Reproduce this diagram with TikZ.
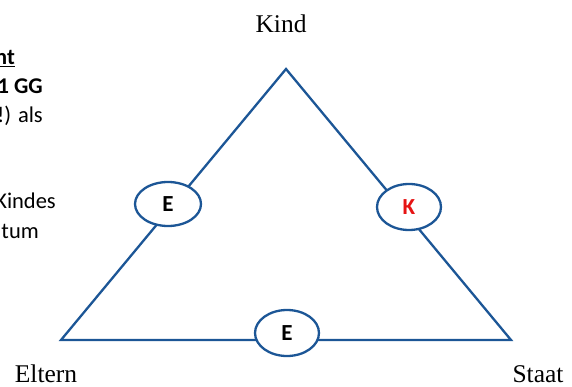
\documentclass[tikz,border=0pt]{standalone}
\usepackage{fontspec}
\setmainfont{Liberation Serif}
\newfontfamily\calib{Carlito}
\definecolor{triblue}{RGB}{28,86,150}
\definecolor{kred}{RGB}{230,20,20}
\tikzset{
  edgeline/.style={draw=triblue, line width=2.3pt, line join=miter},
  role/.style={ellipse, draw=triblue, line width=2.3pt, fill=white, inner sep=0pt,
    font=\calib\fontsize{23}{27}\selectfont\bfseries},
  corner/.style={font=\fontsize{25.5}{30}\selectfont},
  sidetext/.style={anchor=base east, inner sep=0pt, font=\calib\fontsize{22.5}{29}\selectfont}
}
\usetikzlibrary{shapes.geometric}
\begin{document}
\begin{tikzpicture}[x=1pt,y=-1pt]
\useasboundingbox (0,0) rectangle (572,387);
\clip (0,0) rectangle (572,387);
% vertices
\coordinate (top) at (286,69);
\coordinate (bl) at (61,340);
\coordinate (br) at (511,340);
\draw[edgeline] (top) -- (bl) -- (br) -- cycle;
% role ellipses
\node[role, minimum width=66pt, minimum height=44pt] (eleft) at (168,204) {E};
\node[role, minimum width=64pt, minimum height=46pt, text=kred] (kright) at (409,207) {K};
\node[role, minimum width=64pt, minimum height=46pt] (ebottom) at (287,333) {E};
% corner labels
\node[corner] (kind) at (281,24) {Kind};
\node[corner] (eltern) at (46,374) {Eltern};
\node[corner] (staat) at (538,374) {Staat};
% clipped side text
\node[sidetext] (t1) at (15,65) {\bfseries\underline{nt}};
\node[sidetext] (t2) at (43,94) {\bfseries 1 GG};
\node[sidetext] (t3) at (43,123) {!) als};
\node[sidetext] (t4) at (56,209) {Kindes};
\node[sidetext] (t5) at (39,238) {tum};
\end{tikzpicture}
\end{document}
